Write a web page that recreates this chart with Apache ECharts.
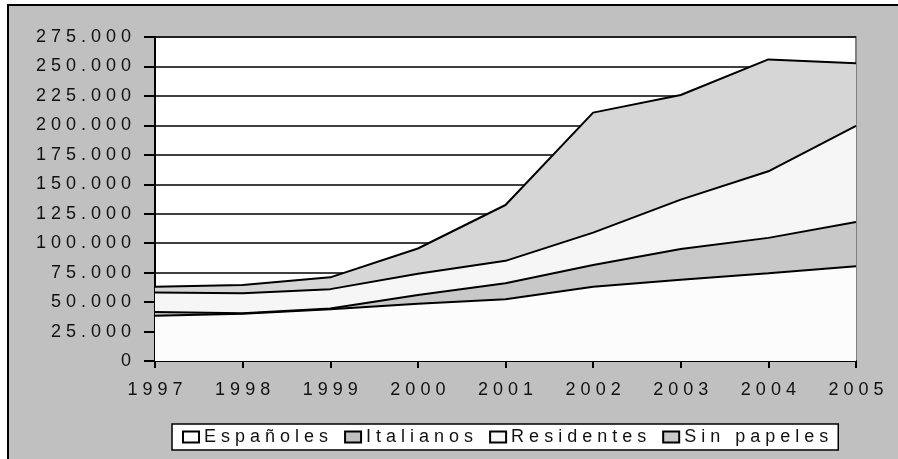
<!DOCTYPE html>
<html>
<head>
<meta charset="utf-8">
<script src="https://cdn.jsdelivr.net/npm/echarts@6/dist/echarts.min.js"></script>
<style>
  html, body { margin: 0; padding: 0; background: #fff; }
  #chart { width: 898px; height: 459px; }
</style>
</head>
<body>
<div id="chart"></div>
<script>
// años del eje x
const years = ['1997', '1998', '1999', '2000', '2001', '2002', '2003', '2004', '2005'];

// valores apilados por serie
const espanoles = [38500, 40000, 44000, 48500, 52500, 63000, 69000, 74500, 80500];
const italianos = [3000, 500, 500, 7500, 13500, 18500, 26000, 30000, 37500];
const residentes = [16700, 17000, 16500, 18000, 19000, 27500, 42000, 56500, 81500];
const sinPapeles = [4800, 7000, 10000, 21500, 47400, 101800, 88800, 95000, 53200];

const yMax = 275000;
const yStep = 25000;

// letras separadas como en el original
function spaced(s) {
  return String(s).split('').join(' ');
}
function fmtMiles(v) {
  return String(v).replace(/\B(?=(\d{3})+(?!\d))/g, '.');
}

const font = 'Liberation Sans, Arial, sans-serif';

function areaSerie(name, data, fill) {
  return {
    name: name,
    type: 'line',
    stack: 'total',
    data: data,
    symbol: 'none',
    smooth: false,
    lineStyle: { color: '#000', width: 2 },
    itemStyle: { color: fill, borderColor: '#000', borderWidth: 1.5 },
    areaStyle: { color: fill, opacity: 1 }
  };
}

let chart = echarts.init(document.getElementById('chart'));
chart.setOption({
  animation: false,
  backgroundColor: '#fff',
  graphic: [
    {
      type: 'rect',
      z: -10,
      shape: { x: 8, y: 5, width: 1000, height: 1000 },
      style: { fill: '#c0c0c0', stroke: '#000', lineWidth: 2 }
    }
  ],
  grid: {
    left: 155,
    top: 37,
    right: 42,
    bottom: 98,
    show: true,
    backgroundColor: '#fff',
    borderColor: '#808080',
    borderWidth: 2
  },
  legend: {
    left: 172,
    top: 424,
    backgroundColor: '#fff',
    borderColor: '#000',
    borderWidth: 1.5,
    padding: [4, 10],
    itemGap: 16,
    itemWidth: 16,
    itemHeight: 11,
    formatter: function (name) { return spaced(name); },
    textStyle: { fontFamily: font, fontSize: 18, color: '#111' },
    data: [
      { name: 'Españoles', icon: 'rect', itemStyle: { color: '#fcfcfc' } },
      { name: 'Italianos', icon: 'rect', itemStyle: { color: '#c0c0c0' } },
      { name: 'Residentes', icon: 'rect', itemStyle: { color: '#f6f6f6' } },
      { name: 'Sin papeles', icon: 'rect', itemStyle: { color: '#c8c8c8' } }
    ]
  },
  xAxis: {
    type: 'category',
    boundaryGap: false,
    data: years,
    axisLine: { lineStyle: { color: '#000', width: 2 } },
    axisTick: { show: true, length: 7, lineStyle: { color: '#000', width: 2 } },
    axisLabel: {
      margin: 20,
      fontFamily: font,
      fontSize: 18,
      color: '#111',
      formatter: function (v) { return spaced(v); }
    },
    splitLine: { show: false }
  },
  yAxis: {
    type: 'value',
    min: 0,
    max: yMax,
    interval: yStep,
    axisLine: { show: true, lineStyle: { color: '#000', width: 2 } },
    axisTick: { show: true, inside: false, length: 11, lineStyle: { color: '#000', width: 2 } },
    axisLabel: {
      margin: 24,
      fontFamily: font,
      fontSize: 18,
      color: '#111',
      formatter: function (v) { return spaced(fmtMiles(v)); }
    },
    splitLine: { show: true, lineStyle: { color: '#000', width: 1.5 } }
  },
  series: [
    areaSerie('Españoles', espanoles, '#fcfcfc'),
    areaSerie('Italianos', italianos, '#c8c8c8'),
    areaSerie('Residentes', residentes, '#f6f6f6'),
    areaSerie('Sin papeles', sinPapeles, '#d6d6d6')
  ]
});
window.onresize = function () {
  chart.resize();
};
</script>
</body>
</html>
